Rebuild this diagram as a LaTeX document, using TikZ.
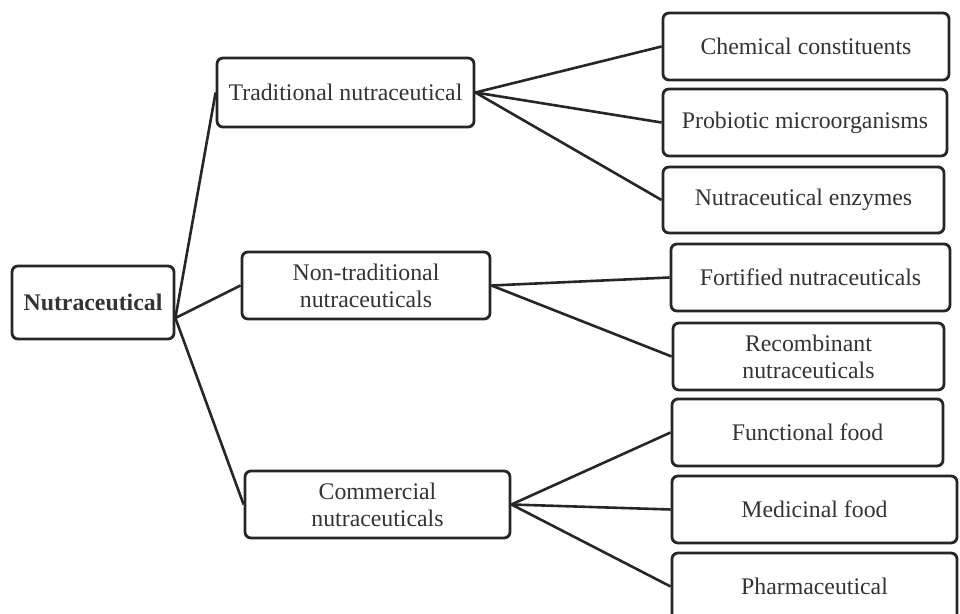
\documentclass[tikz,border=0pt]{standalone}
\usepackage{fontspec}
\setmainfont{Liberation Serif}
\usetikzlibrary{calc}
\tikzset{
  kat/.style={draw=black!85,line width=1.4pt,rounded corners=3pt,inner sep=0pt,
    align=center,text=black!80,font=\fontsize{11.9}{13.5}\selectfont},
  ag/.style={draw=black!85,line width=1.3pt},
}

\begin{document}
\begin{tikzpicture}[x=0.5pt,y=-0.5pt]
  \useasboundingbox (0,0) rectangle (960,614);
  \clip (0,0) rectangle (960,614);
  % root
  \node[kat,minimum width=81pt,minimum height=36.5pt,font=\fontsize{11.9}{13.5}\selectfont\bfseries]
    (nut) at (93,302.5) {Nutraceutical};
  \coordinate (nutJ) at ($(nut.east)+(0,15.5)$);
  % second level
  \node[kat,minimum width=128.5pt,minimum height=34.5pt] (trad) at (345.5,92.5) {Traditional nutraceutical};
  \node[kat,minimum width=124pt,minimum height=33.5pt] (ntrad) at (366,285.5) {Non-traditional\\ nutraceuticals};
  \node[kat,minimum width=132.5pt,minimum height=33.5pt] (comm) at (377.5,504.5) {Commercial\\ nutraceuticals};
  % leaves
  \node[kat,minimum width=143pt,minimum height=33.5pt] (chem) at (806,46.5) {Chemical constituents};
  \node[kat,minimum width=142pt,minimum height=33.5pt] (prob) at (805,122.5) {Probiotic microorganisms};
  \node[kat,minimum width=140.5pt,minimum height=33pt] (enz) at (803.5,200) {Nutraceutical enzymes};
  \node[kat,minimum width=139.5pt,minimum height=33.5pt] (fort) at (810.5,277.5) {Fortified nutraceuticals};
  \node[kat,minimum width=135.5pt,minimum height=33.5pt] (rec) at (808.5,356.5) {Recombinant\\ nutraceuticals};
  \node[kat,minimum width=135.5pt,minimum height=33.5pt] (func) at (807.5,432.5) {Functional food};
  \node[kat,minimum width=142.5pt,minimum height=33.5pt] (med) at (814.5,509.5) {Medicinal food};
  \node[kat,minimum width=142.5pt,minimum height=33.5pt] (pharm) at (814.5,586.5) {Pharmaceutical};
  % connectors
  \foreach \b in {trad,ntrad,comm} \draw[ag] (nutJ) -- (\b.west);
  \foreach \c in {chem,prob,enz} \draw[ag] (trad.east) -- (\c.west);
  \foreach \c in {fort,rec} \draw[ag] (ntrad.east) -- (\c.west);
  \foreach \c in {func,med,pharm} \draw[ag] (comm.east) -- (\c.west);
\end{tikzpicture}
\end{document}
